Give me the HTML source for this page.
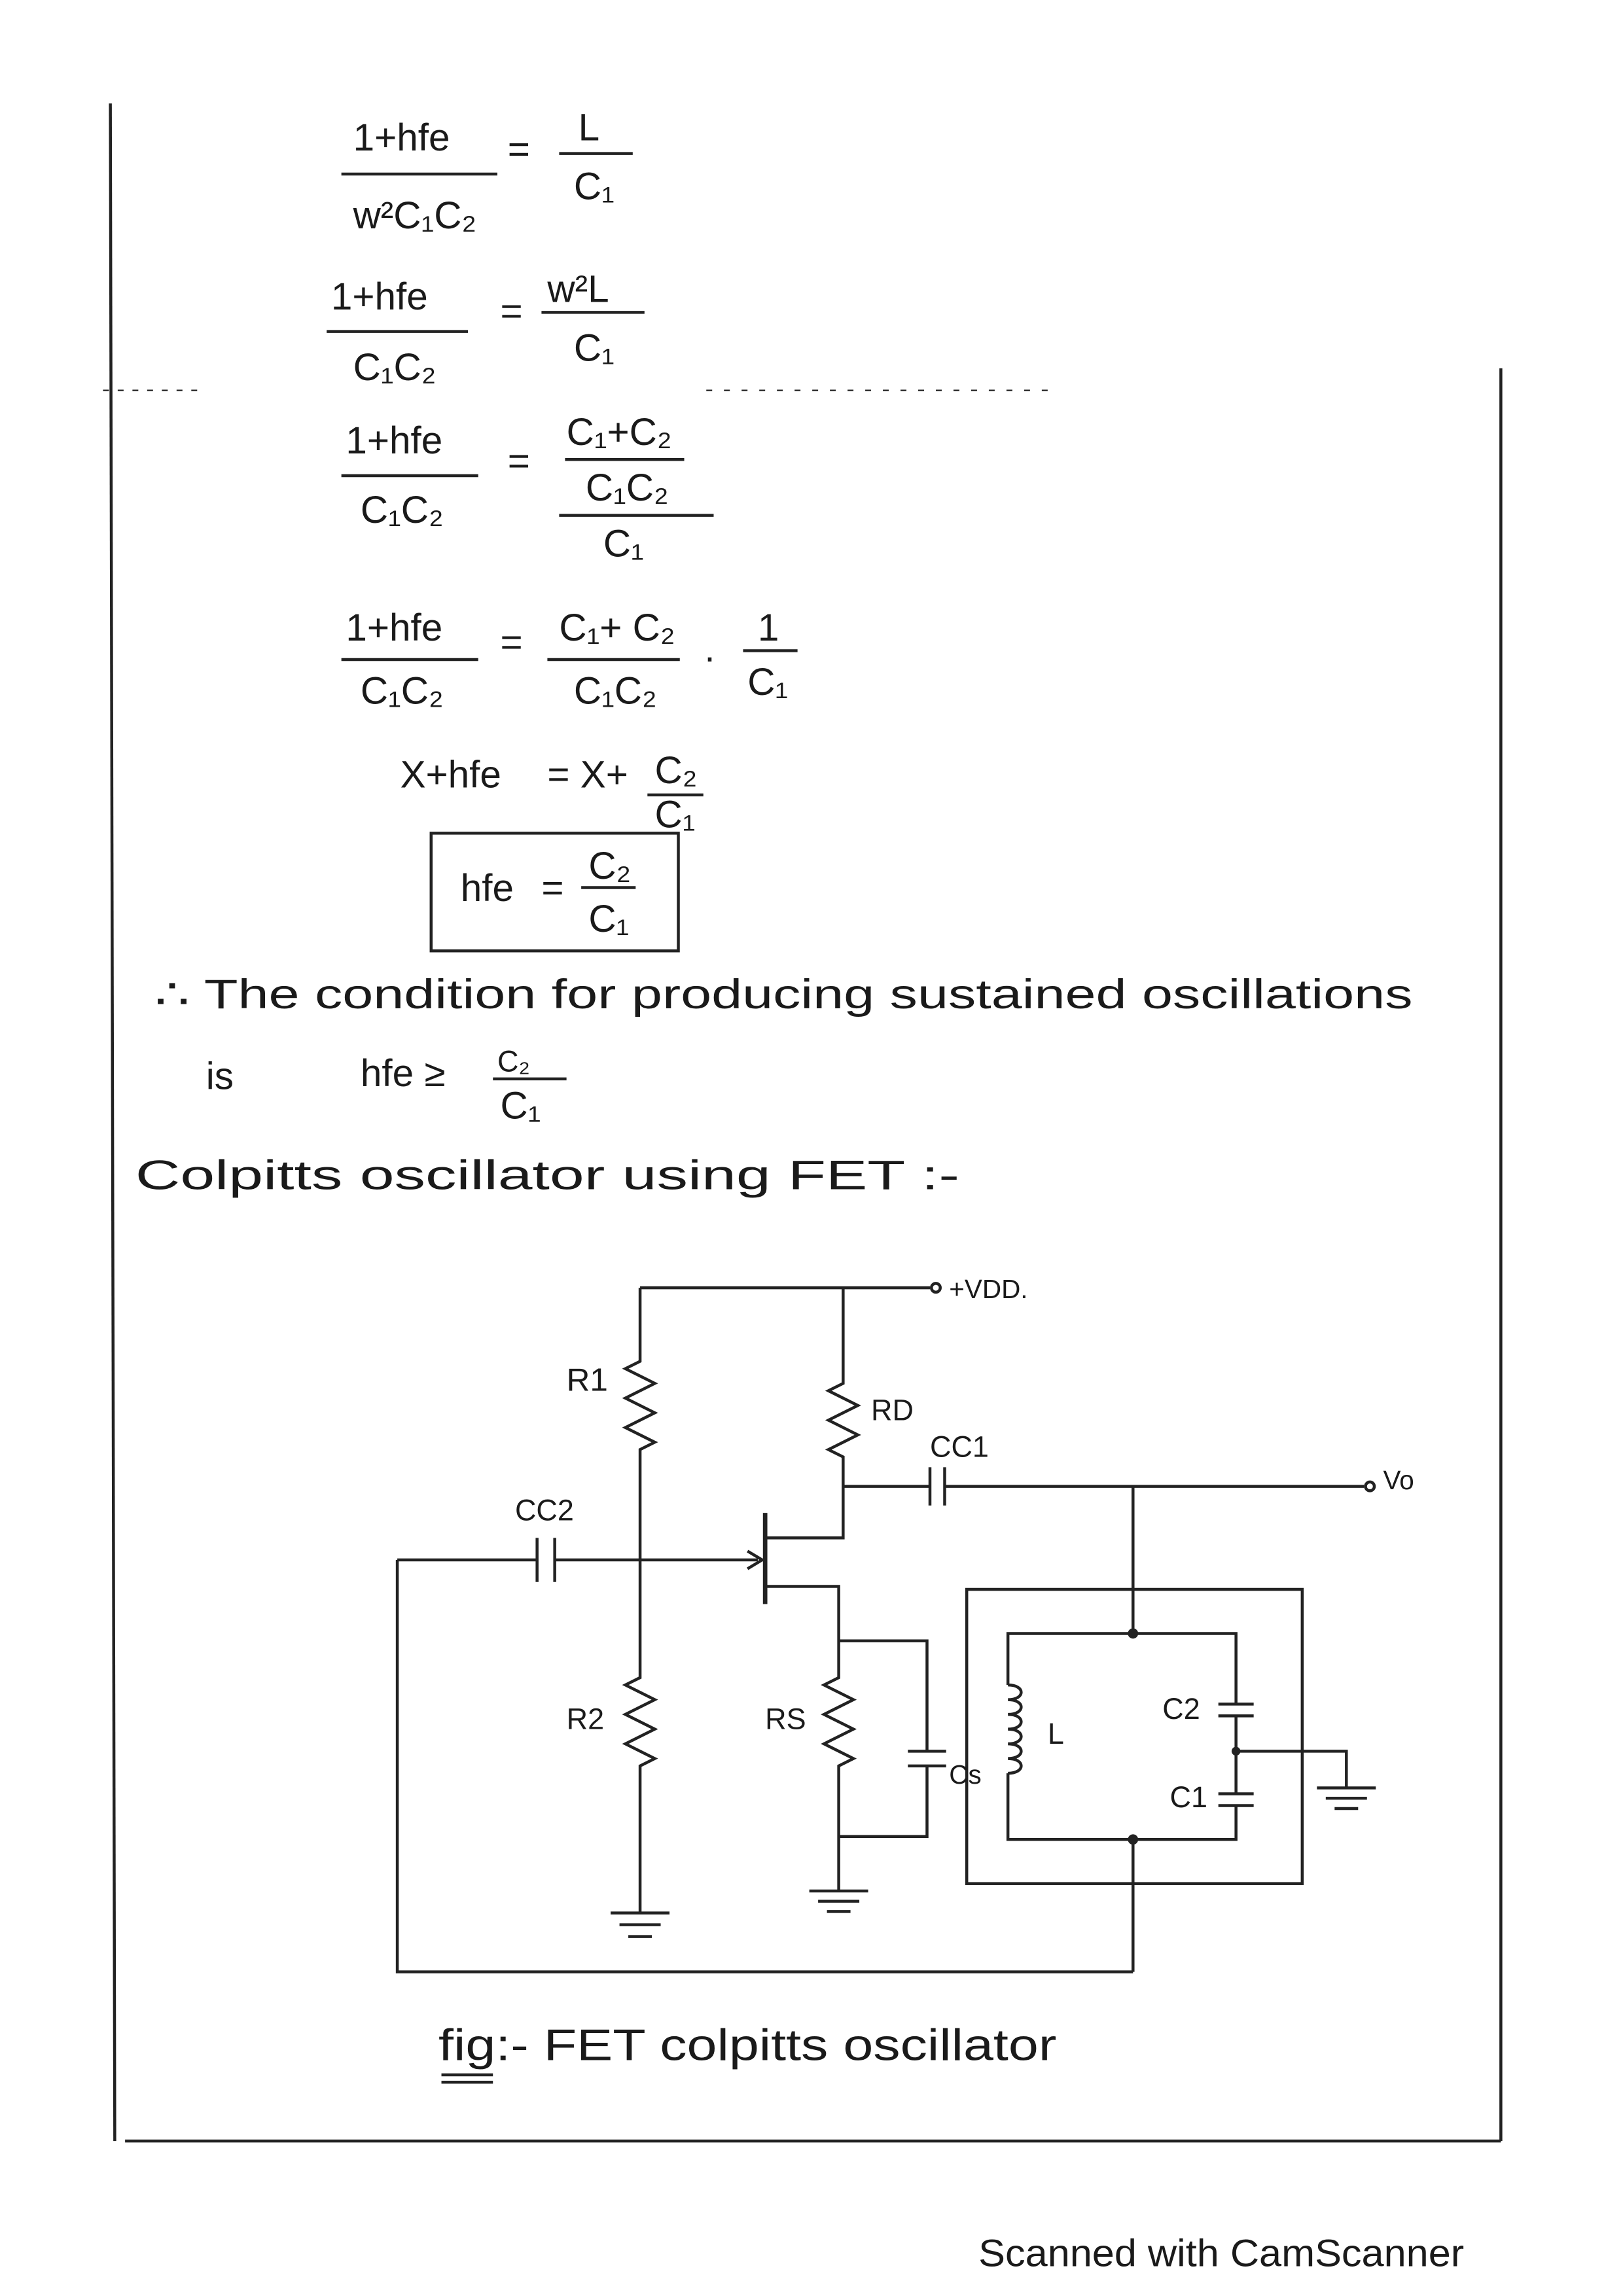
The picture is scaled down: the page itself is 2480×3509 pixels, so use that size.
<!DOCTYPE html>
<html><head><meta charset="utf-8"><style>
html,body{margin:0;padding:0;background:#fff}
svg{display:block}
text{font-family:"Liberation Sans",sans-serif;fill:#1a1a1a}
</style></head><body>
<svg width="2480" height="3509" viewBox="0 0 1103 1560" xmlns="http://www.w3.org/2000/svg">
<rect width="1103" height="1560" fill="#fff"/>
<g stroke="#222" stroke-width="2" fill="none">
<line x1="75" y1="70" x2="78" y2="1455"/>
<line x1="85" y1="1455" x2="1020" y2="1455"/>
<line x1="1020" y1="250" x2="1020" y2="1455"/>
<line x1="70" y1="265" x2="140" y2="265" stroke-dasharray="4 6" stroke-width="1"/>
<line x1="480" y1="265" x2="720" y2="265" stroke-dasharray="4 8" stroke-width="1"/>
<line x1="232" y1="118" x2="338" y2="118"/><line x1="380" y1="104" x2="430" y2="104"/>
<line x1="222" y1="225" x2="318" y2="225"/><line x1="368" y1="212" x2="438" y2="212"/>
<line x1="232" y1="323" x2="325" y2="323"/><line x1="384" y1="312" x2="465" y2="312"/><line x1="380" y1="350" x2="485" y2="350"/>
<line x1="232" y1="448" x2="325" y2="448"/><line x1="372" y1="448" x2="462" y2="448"/><line x1="505" y1="442" x2="542" y2="442"/>
<line x1="440" y1="540" x2="478" y2="540"/>
<line x1="395" y1="603" x2="432" y2="603"/>
<line x1="335" y1="733" x2="385" y2="733"/>
<rect x="293" y="566" width="168" height="80"/>
<polyline points="435,875 435,925 425,930 445,940 425,950 445,960 425,970 445,980 435,985 435,1140 425,1145 445,1155 425,1165 445,1175 425,1185 445,1195 435,1200 435,1300"/>
<line x1="435" y1="875" x2="632" y2="875"/>
<circle cx="636" cy="875" r="3"/>
<line x1="270" y1="1060" x2="365" y2="1060"/>
<line x1="365" y1="1045" x2="365" y2="1075"/><line x1="377" y1="1045" x2="377" y2="1075"/>
<line x1="377" y1="1060" x2="515" y2="1060"/>
<polyline points="508,1054 518,1060 508,1066"/>
<line x1="520" y1="1028" x2="520" y2="1090" stroke-width="3"/>
<polyline points="520,1045 573,1045 573,990 563,985 583,975 563,965 583,955 563,945 573,940 573,875"/>
<polyline points="520,1078 570,1078 570,1140 560,1145 580,1155 560,1165 580,1175 560,1185 580,1195 570,1200 570,1285"/>
<polyline points="570,1115 630,1115 630,1190"/>
<line x1="617" y1="1190" x2="643" y2="1190"/><line x1="617" y1="1200" x2="643" y2="1200"/>
<polyline points="630,1200 630,1248 570,1248"/>
<line x1="573" y1="1010" x2="632" y2="1010"/>
<line x1="632" y1="997" x2="632" y2="1023"/><line x1="642" y1="997" x2="642" y2="1023"/>
<line x1="642" y1="1010" x2="927" y2="1010"/>
<circle cx="931" cy="1010" r="3"/>
<line x1="770" y1="1010" x2="770" y2="1110"/>
<rect x="657" y="1080" width="228" height="200"/>
<polyline points="770,1110 685,1110 685,1145"/>
<path d="M685,1145 c12,0 12,10 0,10 c12,0 12,10 0,10 c12,0 12,10 0,10 c12,0 12,10 0,10 c12,0 12,10 0,10 c12,0 12,10 0,10"/>
<polyline points="685,1205 685,1250 840,1250 840,1227"/>
<polyline points="770,1110 840,1110 840,1158"/>
<line x1="828" y1="1158" x2="852" y2="1158"/><line x1="828" y1="1166" x2="852" y2="1166"/>
<line x1="840" y1="1166" x2="840" y2="1219"/>
<line x1="828" y1="1219" x2="852" y2="1219"/><line x1="828" y1="1227" x2="852" y2="1227"/>
<polyline points="840,1190 915,1190 915,1215"/>
<line x1="770" y1="1250" x2="770" y2="1340"/>
<polyline points="270,1060 270,1340 770,1340"/>
<line x1="415" y1="1300" x2="455" y2="1300"/><line x1="421" y1="1308" x2="449" y2="1308"/><line x1="427" y1="1316" x2="443" y2="1316"/>
<line x1="550" y1="1285" x2="590" y2="1285"/><line x1="556" y1="1292" x2="584" y2="1292"/><line x1="562" y1="1299" x2="578" y2="1299"/>
<line x1="895" y1="1215" x2="935" y2="1215"/><line x1="901" y1="1222" x2="929" y2="1222"/><line x1="907" y1="1229" x2="923" y2="1229"/>
<line x1="300" y1="1410" x2="335" y2="1410"/><line x1="300" y1="1415" x2="335" y2="1415"/>
</g>
<g fill="#222"><circle cx="770" cy="1110" r="3.5"/><circle cx="770" cy="1250" r="3.5"/><circle cx="840" cy="1190" r="3"/></g>
<g font-size="26">
<text x="240" y="102">1+hfe</text><text x="345" y="110">=</text><text x="393" y="95">L</text>
<text x="240" y="155">w²C₁C₂</text><text x="390" y="135">C₁</text>
<text x="225" y="210">1+hfe</text><text x="340" y="220">=</text><text x="372" y="205">w²L</text>
<text x="240" y="258">C₁C₂</text><text x="390" y="245">C₁</text>
<text x="235" y="308">1+hfe</text><text x="345" y="322">=</text><text x="385" y="302">C₁+C₂</text>
<text x="245" y="355">C₁C₂</text><text x="398" y="340">C₁C₂</text><text x="410" y="378">C₁</text>
<text x="235" y="435">1+hfe</text><text x="340" y="445">=</text><text x="380" y="435">C₁+ C₂</text><text x="515" y="435">1</text>
<text x="245" y="478">C₁C₂</text><text x="390" y="478">C₁C₂</text><text x="478" y="455">·</text><text x="508" y="472">C₁</text>
<text x="272" y="535">X+hfe</text><text x="372" y="535">= X+</text><text x="445" y="532">C₂</text><text x="445" y="562">C₁</text>
<text x="313" y="612">hfe</text><text x="368" y="612">=</text><text x="400" y="597">C₂</text><text x="400" y="633">C₁</text>
<text x="105" y="685" font-size="28" textLength="855" lengthAdjust="spacingAndGlyphs">∴ The condition for producing sustained oscillations</text>
<text x="140" y="740">is</text><text x="245" y="738">hfe ≥</text><text x="338" y="728" font-size="20">C₂</text><text x="340" y="760">C₁</text>
<text x="92" y="808" font-size="28" textLength="560" lengthAdjust="spacingAndGlyphs">Colpitts oscillator using FET :-</text>
<text x="645" y="882" font-size="18">+VDD.</text>
<text x="385" y="945" font-size="22">R1</text>
<text x="592" y="965" font-size="20">RD</text>
<text x="632" y="990" font-size="20">CC1</text>
<text x="350" y="1033" font-size="20">CC2</text>
<text x="940" y="1012" font-size="18">Vo</text>
<text x="385" y="1175" font-size="20">R2</text>
<text x="520" y="1175" font-size="20">RS</text>
<text x="645" y="1212" font-size="18">Cs</text>
<text x="712" y="1185" font-size="20">L</text>
<text x="790" y="1168" font-size="20">C2</text>
<text x="795" y="1228" font-size="20">C1</text>
<text x="298" y="1400" font-size="30" textLength="420" lengthAdjust="spacingAndGlyphs">fig:- FET colpitts oscillator</text>
<text x="665" y="1540" font-size="26" textLength="330" lengthAdjust="spacingAndGlyphs">Scanned with CamScanner</text>
</g>
</svg>
</body></html>
